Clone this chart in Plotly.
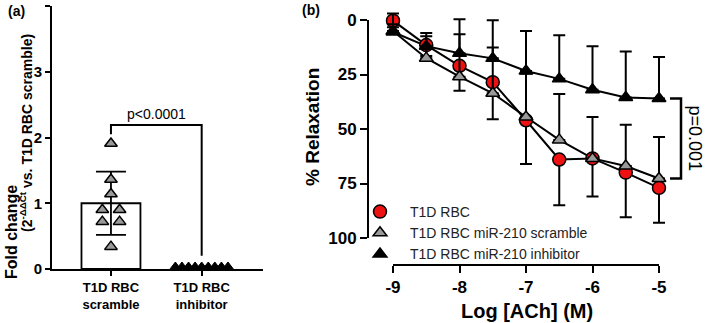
import plotly.graph_objects as go

W, H = 709, 323
FONT = "Arial, Liberation Sans, sans-serif"

# ---------------- data: panel (a) ----------------
a_categories = ["T1D RBC<br>scramble", "T1D RBC<br>inhibitor"]
a_bar_mean = [1.0]
a_bar_sd = [0.48]
a_scramble_pts = [1.91, 1.36, 1.14, 0.90, 0.90, 0.72, 0.72, 0.34]
a_inhibitor_pts = [0, 0, 0, 0, 0, 0, 0, 0, 0]
a_pvalue = "p<0.0001"

# ---------------- data: panel (b) ----------------
log_ach = [-9, -8.5, -8, -7.5, -7, -6.5, -6, -5.5, -5]
rbc = [0.3, 11.5, 21, 28.5, 46, 64, 63.5, 70, 77]
rbc_err = [3, 5, 11.4, 17, 20, 21, 17.5, 20.5, 16]
scr = [5, 17.5, 26, 33.6, 44.5, 55, 63.5, 67, 72.7]
scr_err = [3, 10, 19.5, 21, 20, 21, 19, 19, 19]
inh = [5.5, 12, 15.3, 17.6, 23.4, 27, 32, 35.5, 36]
inh_err = [8.5, 6, 15.6, 17.5, 18.4, 20, 20, 21, 19]
b_names = ["T1D RBC", "T1D RBC miR-210 scramble", "T1D RBC miR-210 inhibitor"]
b_pvalue = "p=0.001"
b_xticks = [-9, -8, -7, -6, -5]
b_xticklabels = ["-9", "-8", "-7", "-6", "-5"]
b_yticks = [0, 25, 50, 75, 100]


def px(p):
    return p / W


def py(p):
    return 1 - p / H


# jitter offsets (positions, not data)
scr_dx = [0, 0, 0, -0.095, 0.095, -0.095, 0.095, 0]
inh_dx = [-0.29 + 0.0725 * i for i in range(len(a_inhibitor_pts))]

fig = go.Figure()

# ---------- panel (a) ----------
fig.add_trace(go.Bar(
    x=[0], y=a_bar_mean, width=0.65, xaxis="x", yaxis="y",
    marker=dict(color="white", line=dict(color="black", width=1.8)),
    error_y=dict(type="data", array=a_bar_sd, visible=True, color="black",
                 thickness=1.8, width=15),
    showlegend=False, hoverinfo="skip"))
fig.add_trace(go.Scatter(
    x=[0 + d for d in scr_dx], y=a_scramble_pts, mode="markers",
    xaxis="x", yaxis="y",
    marker=dict(symbol="triangle-up", size=11, color="#999999",
                line=dict(color="black", width=1.5)),
    showlegend=False, hoverinfo="skip"))
fig.add_trace(go.Scatter(
    x=[1 + d for d in inh_dx], y=a_inhibitor_pts, mode="markers",
    xaxis="x", yaxis="y", cliponaxis=True,
    marker=dict(symbol="triangle-up", size=14, color="black",
                line=dict(color="black", width=1)),
    showlegend=False, hoverinfo="skip"))
# significance bracket
br_top = 2.19
fig.add_trace(go.Scatter(
    x=[0, 0, 1, 1], y=[2.05, br_top, br_top, 0.2], mode="lines",
    xaxis="x", yaxis="y", line=dict(color="black", width=2),
    showlegend=False, hoverinfo="skip"))

# ---------- panel (b) ----------
PX_X0, PX_PER_X = 393, 66.5      # pixel of x=-9 and px per log unit
PX_Y0, PX_PER_Y = 20, 2.18       # pixel of y=0 and px per % unit


def bx(p):
    return -9 + (p - PX_X0) / PX_PER_X


def by(p):
    return (p - PX_Y0) / PX_PER_Y


series = [
    (rbc, rbc_err, "circle", 13, "#ee1111", "plus"),
    (scr, scr_err, "triangle-up", 12, "#999999", "minus"),
    (inh, inh_err, "triangle-up", 12, "black", "minus"),
]
for vals, _, _, _, _, _ in series:
    fig.add_trace(go.Scatter(
        x=log_ach, y=vals, mode="lines", xaxis="x2", yaxis="y2",
        line=dict(color="black", width=2), showlegend=False, hoverinfo="skip"))
for (vals, err, sym, sz, col, direction), name in zip(series, b_names):
    zeros = [0] * len(err)
    if direction == "plus":
        ey = dict(type="data", symmetric=False, array=err, arrayminus=zeros)
    else:
        ey = dict(type="data", symmetric=False, array=zeros, arrayminus=err)
    ey.update(visible=True, color="black", thickness=2, width=6)
    fig.add_trace(go.Scatter(
        x=log_ach, y=vals, mode="markers", name=name, xaxis="x2", yaxis="y2",
        marker=dict(symbol=sym, size=sz, color=col,
                    line=dict(color="black", width=1.5)),
        error_y=ey, hoverinfo="skip"))

# p=0.001 bracket
bk_x0, bk_x1 = bx(670), bx(681)
fig.add_trace(go.Scatter(
    x=[bk_x0, bk_x1, bk_x1, bk_x0], y=[inh[-1], inh[-1], scr[-1], scr[-1]],
    mode="lines", xaxis="x2", yaxis="y2", line=dict(color="black", width=2.5),
    showlegend=False, hoverinfo="skip"))

# anchor trace for the visible (offset) axes of panel (b)
fig.add_trace(go.Scatter(
    x=[b_xticks[0], b_xticks[-1]], y=[b_yticks[0], b_yticks[-1]],
    mode="markers", marker=dict(opacity=0, size=1),
    xaxis="x3", yaxis="y3", showlegend=False, hoverinfo="skip"))

tickfont_a = dict(family=FONT, size=15, color="black", weight="bold")
fig.update_layout(
    width=W, height=H, margin=dict(l=0, r=0, t=0, b=0),
    paper_bgcolor="white", plot_bgcolor="rgba(0,0,0,0)",
    font=dict(family=FONT, color="black"),
    barmode="overlay",
    xaxis=dict(domain=[px(52), px(263)], range=[-0.65, 1.676], anchor="y",
               tickvals=[0, 1], ticktext=a_categories, showline=True,
               linecolor="black", linewidth=2, ticks="outside", ticklen=5,
               tickwidth=2, tickcolor="black", showgrid=False, zeroline=False,
               tickfont=dict(family=FONT, size=13, color="black", weight="bold"),
               automargin=False, fixedrange=True),
    yaxis=dict(domain=[py(269), py(6)], range=[0, 4], anchor="x",
               tickvals=[0, 1, 2, 3, 4], showline=True, linecolor="black",
               linewidth=2, ticks="outside", ticklen=5, tickwidth=2,
               tickcolor="black", showgrid=False, zeroline=False,
               tickfont=tickfont_a, automargin=False, fixedrange=True),
    xaxis2=dict(domain=[px(360), px(705)], range=[bx(360), bx(705)],
                anchor="y2", visible=False, fixedrange=True),
    yaxis2=dict(domain=[py(268), py(3)], range=[by(268), by(3)],
                anchor="x2", visible=False, fixedrange=True),
    xaxis3=dict(domain=[px(393), px(659)], range=[b_xticks[0], b_xticks[-1]],
                anchor="free", position=py(265), tickvals=b_xticks,
                ticktext=b_xticklabels,
                showline=True, linecolor="black", linewidth=2, ticks="outside",
                ticklen=7, tickwidth=2, tickcolor="black", showgrid=False,
                zeroline=False,
                tickfont=dict(family=FONT, size=17, color="black", weight="bold"),
                automargin=False, fixedrange=True),
    yaxis3=dict(domain=[py(238), py(20)], range=[b_yticks[-1], b_yticks[0]],
                anchor="free", position=px(368), tickvals=b_yticks,
                showline=True, linecolor="black", linewidth=2, ticks="outside",
                ticklen=7, tickwidth=2, tickcolor="black", showgrid=False,
                zeroline=False,
                tickfont=dict(family=FONT, size=17, color="black", weight="bold"),
                automargin=False, fixedrange=True),
    legend=dict(x=px(350), y=py(196), xanchor="left", yanchor="top",
                bgcolor="rgba(0,0,0,0)", itemwidth=50,
                font=dict(family=FONT, size=14, color="#222222"),
                tracegroupgap=0),
    showlegend=True,
)

ann = [
    dict(text="(a)", x=px(16), y=py(11), font=dict(size=14, weight="bold")),
    dict(text="(b)", x=px(311), y=py(10), font=dict(size=14, weight="bold")),
    dict(text="Fold change", x=px(11), y=py(232), textangle=-90,
         font=dict(size=16, weight="bold")),
    dict(text="(2<sup>-ΔΔCt</sup> vs. T1D RBC scramble)", x=px(26), y=py(133),
         textangle=-90, font=dict(size=14, weight="bold")),
    dict(text="% Relaxation", x=px(312), y=py(127), textangle=-90,
         font=dict(size=19, weight="bold")),
    dict(text="Log [ACh] (M)", x=px(527), y=py(311),
         font=dict(size=20, weight="bold")),
]
annotations = []
for a in ann:
    a["font"].update(family=FONT, color="black")
    annotations.append(dict(xref="paper", yref="paper", showarrow=False,
                            xanchor="center", yanchor="middle", **a))
annotations.append(dict(text=a_pvalue, x=0.5, y=br_top, xref="x", yref="y",
                        xanchor="center", yanchor="bottom", yshift=1,
                        showarrow=False,
                        font=dict(family=FONT, size=14, color="black")))
annotations.append(dict(text=b_pvalue, x=bx(695), y=(inh[-1] + scr[-1]) / 2,
                        xref="x2", yref="y2", xanchor="center",
                        yanchor="middle", textangle=90, showarrow=False,
                        font=dict(family=FONT, size=18, color="black")))
fig.update_layout(annotations=annotations)

fig.write_html("out.html")
